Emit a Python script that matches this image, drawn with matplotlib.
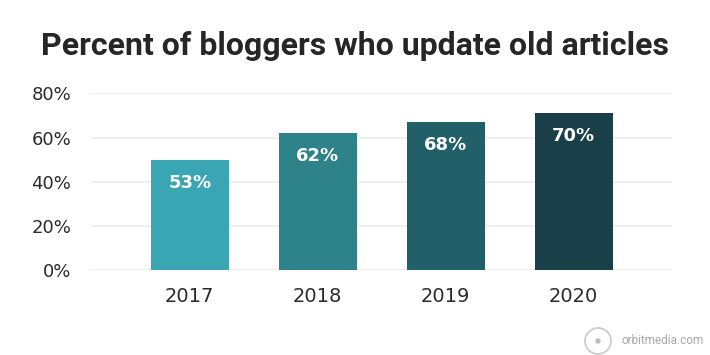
import matplotlib.pyplot as plt
from matplotlib.patches import Circle

years = ["2017", "2018", "2019", "2020"]
bar_heights = [50, 62, 67, 71]          # bar tops as drawn in the reference
bar_labels = ["53%", "62%", "68%", "70%"]  # printed labels
y_ticks = [0, 20, 40, 60, 80]

colors = ["#3aa6b4", "#2e838b", "#226069", "#194048"]
text_color = "#2b2b2b"

fig = plt.figure(figsize=(7.1, 3.55), dpi=100)
fig.patch.set_facecolor("white")
ax = fig.add_axes([0.128, 0.239, 0.818, 0.498])

x = range(len(years))
bars = ax.bar(x, bar_heights, width=0.61, color=colors, zorder=3)

for b, lab in zip(bars, bar_labels):
    ax.annotate(lab, (b.get_x() + b.get_width() / 2, b.get_height()),
                xytext=(0, -23), textcoords="offset pixels",
                ha="center", va="center", fontsize=13, fontweight="bold",
                color="white", zorder=4)

ax.set_xlim(-0.773, 3.766)
ax.set_ylim(0, 80)
ax.set_yticks(y_ticks)
ax.set_yticklabels([f"{t}%" for t in y_ticks])
ax.set_xticks(list(x))
ax.set_xticklabels(years)

ax.tick_params(axis="y", length=0, pad=14, labelsize=13, colors=text_color)
ax.tick_params(axis="x", length=0, pad=12, labelsize=14, colors=text_color)

for s in ax.spines.values():
    s.set_visible(False)
ax.grid(axis="y", color="#efefef", linewidth=1.5, zorder=0)
ax.grid(axis="x", visible=False)

fig.text(0.5, 0.87, "Percent of bloggers who update old articles",
         ha="center", va="center", fontsize=23, fontweight="bold",
         color="#262626", family="Roboto")

# watermark
fig.patches.append(Circle((598, 14), 13, transform=None, fill=False,
                          edgecolor="#cfcfcf", linewidth=1.4))
fig.patches.append(Circle((598, 14), 2, transform=None, color="#bdbdbd"))
fig.text(622 / 710, 0.04, "orbitmedia.com", ha="left", va="center",
         fontsize=8.5, color="#a9a9a9", family="Roboto")

fig.savefig("out.png", dpi=100, facecolor="white")
